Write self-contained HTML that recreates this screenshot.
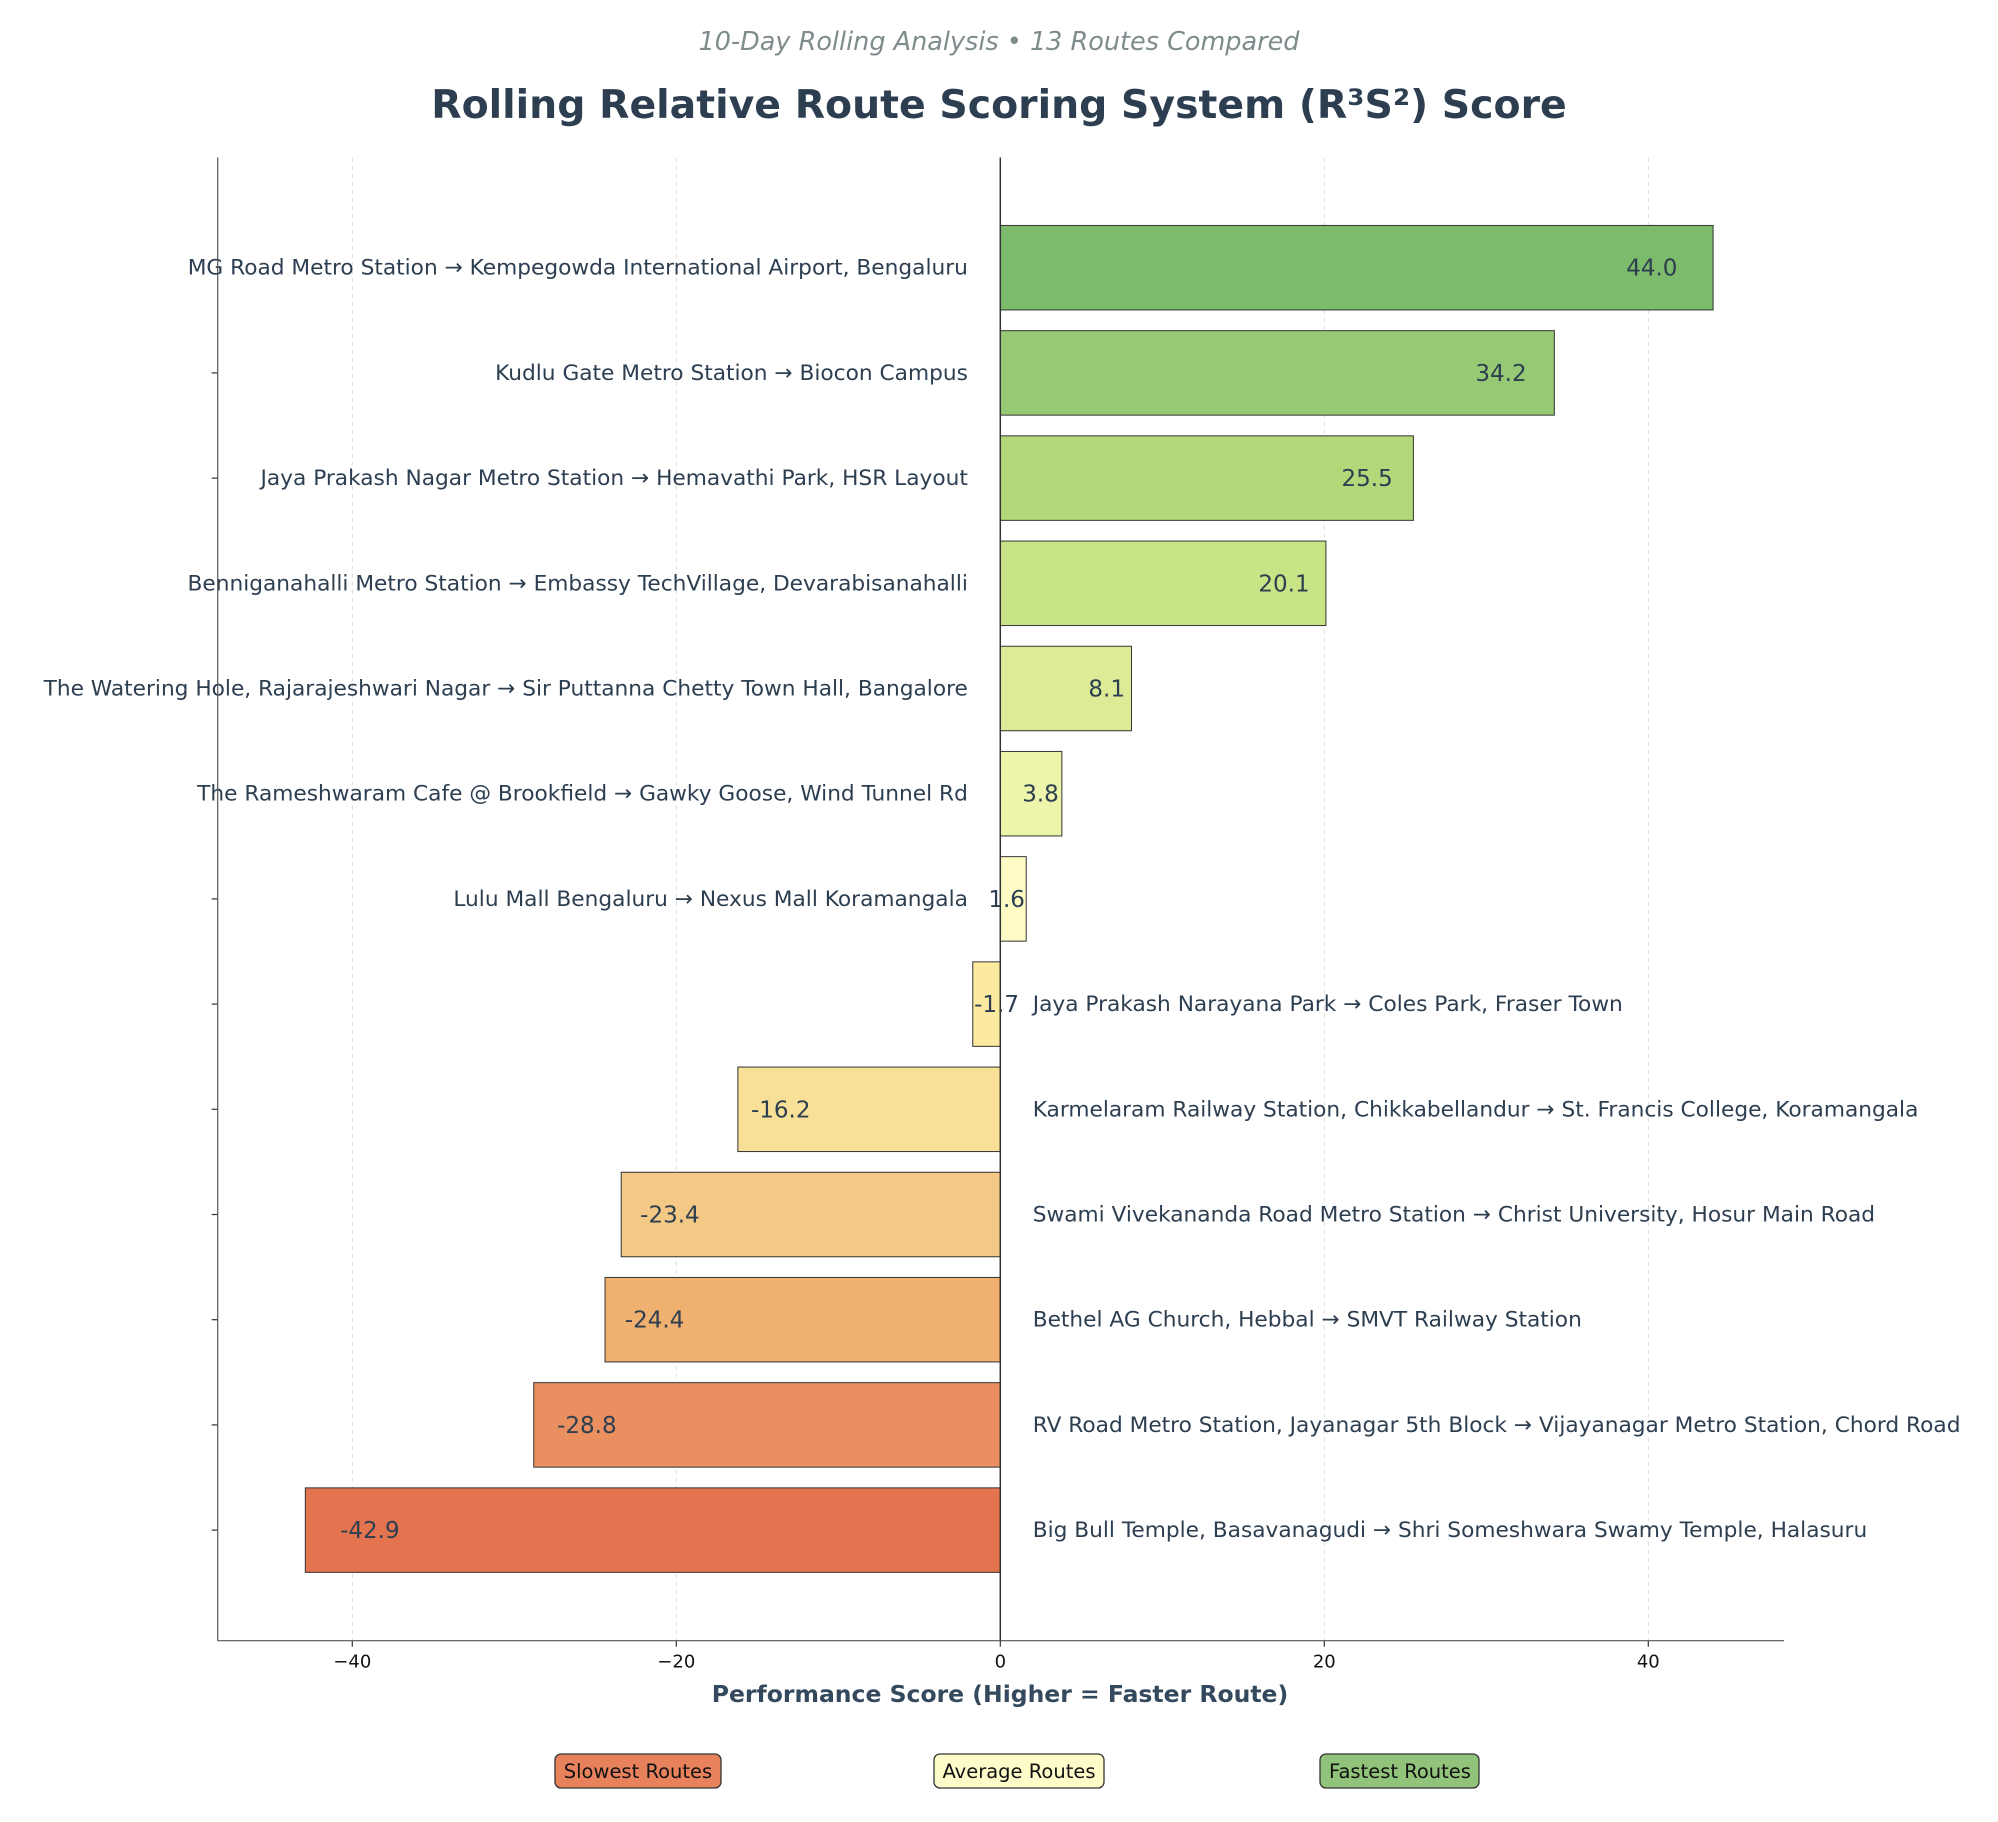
<!DOCTYPE html>
<html><head><meta charset="utf-8"><style>
body{margin:0;background:#fff;}
svg{display:block;font-family:"DejaVu Sans","Liberation Sans",sans-serif;}
</style></head><body>
<svg id="chart" width="1998" height="1822" viewBox="0 0 1998 1822">
<text x="999" y="50" text-anchor="middle" font-size="25.5" font-style="italic" fill="#7f8c8d">10-Day Rolling Analysis • 13 Routes Compared</text>
<text x="999" y="118" text-anchor="middle" font-size="39.4" font-weight="bold" fill="#2c3e50">Rolling Relative Route Scoring System (R³S²) Score</text>
<g id="grid"></g><g id="bars"></g><g id="axes"></g>
<text x="1000" y="1702" text-anchor="middle" font-size="23.5" font-weight="bold" fill="#34495e">Performance Score (Higher = Faster Route)</text>
<g>
<rect x="555" y="1754" width="166" height="34" rx="6" fill="#e8825c" stroke="#333" stroke-width="1.3"/>
<text x="638" y="1778" text-anchor="middle" font-size="19.5" fill="#111">Slowest Routes</text>
<rect x="934" y="1754" width="170" height="34" rx="6" fill="#fefcc8" stroke="#333" stroke-width="1.3"/>
<text x="1019" y="1778" text-anchor="middle" font-size="19.5" fill="#111">Average Routes</text>
<rect x="1320" y="1754" width="159" height="34" rx="6" fill="#91c47a" stroke="#333" stroke-width="1.3"/>
<text x="1400" y="1778" text-anchor="middle" font-size="19.5" fill="#111">Fastest Routes</text>
</g>
</svg>
<script>
const routes=["MG Road Metro Station → Kempegowda International Airport, Bengaluru","Kudlu Gate Metro Station → Biocon Campus","Jaya Prakash Nagar Metro Station → Hemavathi Park, HSR Layout","Benniganahalli Metro Station → Embassy TechVillage, Devarabisanahalli","The Watering Hole, Rajarajeshwari Nagar → Sir Puttanna Chetty Town Hall, Bangalore","The Rameshwaram Cafe @ Brookfield → Gawky Goose, Wind Tunnel Rd","Lulu Mall Bengaluru → Nexus Mall Koramangala","Jaya Prakash Narayana Park → Coles Park, Fraser Town","Karmelaram Railway Station, Chikkabellandur → St. Francis College, Koramangala","Swami Vivekananda Road Metro Station → Christ University, Hosur Main Road","Bethel AG Church, Hebbal → SMVT Railway Station","RV Road Metro Station, Jayanagar 5th Block → Vijayanagar Metro Station, Chord Road","Big Bull Temple, Basavanagudi → Shri Someshwara Swamy Temple, Halasuru"];
const scores=[44.0,34.2,25.5,20.1,8.1,3.8,1.6,-1.7,-16.2,-23.4,-24.4,-28.8,-42.9];
const xTicks=[-40,-20,0,20,40];
const xTickLabels=["−40","−20","0","20","40"];
const barColors=["#7cba6c","#96c973","#b2d87a","#c9e486","#deeb96","#ecf5aa","#fefcc4","#fbeaa0","#f8e096","#f4c885","#f0b06f","#ea9060","#e3744f"];
const NS="http://www.w3.org/2000/svg";
const L=217.7,R=1784,T=157.5,B=1640.7,X0=1000.3,UNIT=16.2;
const xS=v=>X0+v*UNIT;
const yS=i=>267.7+i*105.2;
const BH=84.5;
function mk(tag,attrs,parent,txt){const e=document.createElementNS(NS,tag);for(const k in attrs)e.setAttribute(k,attrs[k]);if(txt!==undefined)e.textContent=txt;parent.appendChild(e);return e;}
const grid=document.getElementById('grid'),bars=document.getElementById('bars'),axes=document.getElementById('axes');
xTicks.forEach((t,k)=>{
  const g=mk('line',{x1:xS(t),x2:xS(t),y1:T,y2:B,stroke:'#ccc','stroke-width':1,'stroke-dasharray':'4,4',opacity:0.7},grid);
  
  
  const tk=mk('line',{x1:xS(t),x2:xS(t),y1:B,y2:B+6,stroke:'#333','stroke-width':1.2},axes);
  
  
  const tl=mk('text',{x:xS(t),y:B+27,'text-anchor':'middle','font-size':18,fill:'#111'},axes,xTickLabels[k]);
  
  
});
scores.forEach((v,i)=>{
  const y=yS(i);
  const x1=Math.min(xS(0),xS(v)),w=Math.abs(xS(v)-xS(0));
  const r=mk('rect',{x:x1,y:y-BH/2,width:w,height:BH,fill:barColors[i],stroke:'#333','stroke-width':1},bars);
  
  
  const pos=v>=0;
  const vl=mk('text',{x:xS(v*0.95),y:y+8,'text-anchor':pos?'end':'start','font-size':23,fill:'#2c3e50'},bars,v.toFixed(1));
  
  
  const rl=mk('text',{x:pos?xS(-2):xS(2),y:y+7,'text-anchor':pos?'end':'start','font-size':21.7,fill:'#2c3e50'},bars,routes[i]);
  
  
  let hide=false;
  if(pos){try{hide=(xS(-2)-rl.getComputedTextLength())<L-8;}catch(e){}}
  if(!hide){
    const tk=mk('line',{x1:L-6,x2:L,y1:y,y2:y,stroke:'#333','stroke-width':1.2},axes);
    
    
  }
});
const sp=[[L,T,L,B],[L,B,R,B],[X0,T,X0,B]];
sp.forEach((s,k)=>{
  const l=mk('line',{x1:s[0],y1:s[1],x2:s[2],y2:s[3],stroke:k==2?'#333':'#555','stroke-width':k==2?1.5:1.2},axes);
  
  
});
</script>
</body></html>
